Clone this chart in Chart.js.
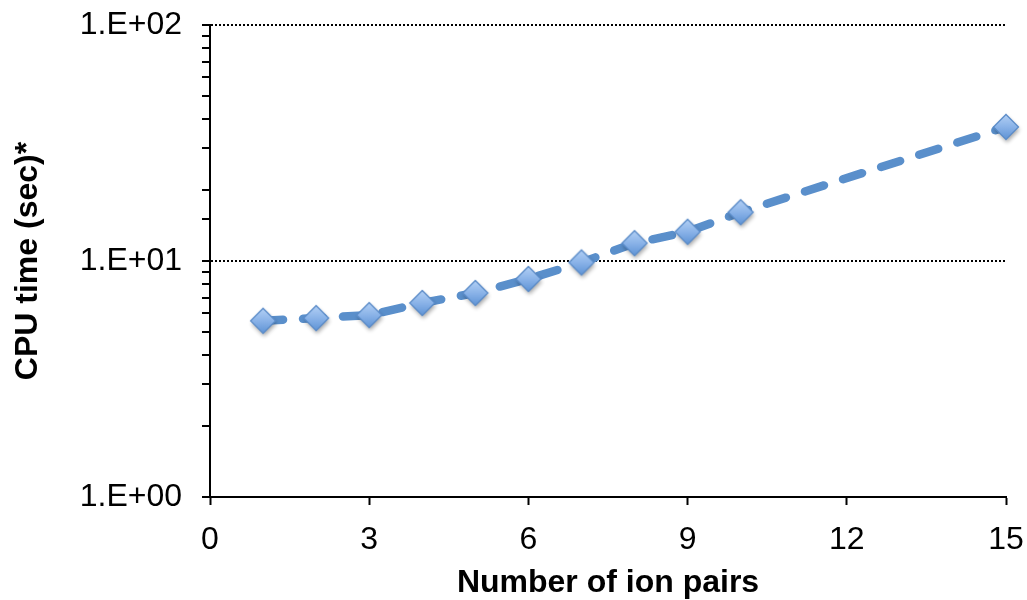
<!DOCTYPE html>
<html>
<head>
<meta charset="utf-8">
<script src="https://cdn.jsdelivr.net/npm/chart.js@4/dist/chart.umd.min.js"></script>
<style>
  html, body { margin: 0; padding: 0; background: #fff; }
  #wrap { width: 1027px; height: 600px; position: relative; }
</style>
</head>
<body>
<div id="wrap"><canvas id="c" width="1027" height="600"></canvas></div>
<script>
// ---- data ----
const ionPairs = [1, 2, 3, 4, 5, 6, 7, 8, 9, 10, 15];
const cpuTime  = [5.58, 5.73, 5.90, 6.64, 7.32, 8.39, 9.86, 11.9, 13.3, 16.1, 37.0];
const xTickValues = [0, 3, 6, 9, 12, 15];
const yMajorValues = [1, 10, 100];
const yMajorLabels = ['1.E+00', '1.E+01', '1.E+02'];
const xTitle = 'Number of ion pairs';
const yTitle = 'CPU time (sec)*';

// ---- marker image (diamond with gradient + soft shadow) ----
function makeMarker() {
  const S = 40, c = document.createElement('canvas');
  c.width = S; c.height = S;
  const g = c.getContext('2d');
  const cx = S / 2, cy = S / 2, r = 12.5;
  g.save();
  g.shadowColor = 'rgba(0,0,0,0.35)';
  g.shadowBlur = 4;
  g.shadowOffsetX = 1;
  g.shadowOffsetY = 3;
  g.beginPath();
  g.moveTo(cx, cy - r); g.lineTo(cx + r, cy); g.lineTo(cx, cy + r); g.lineTo(cx - r, cy); g.closePath();
  const grad = g.createLinearGradient(0, cy - r, 0, cy + r);
  grad.addColorStop(0, '#b3d0f5');
  grad.addColorStop(0.5, '#8ab3e8');
  grad.addColorStop(1, '#5f93d6');
  g.fillStyle = grad;
  g.fill();
  g.restore();
  g.beginPath();
  g.moveTo(cx, cy - r); g.lineTo(cx + r, cy); g.lineTo(cx, cy + r); g.lineTo(cx - r, cy); g.closePath();
  g.lineWidth = 1.3;
  g.strokeStyle = '#5a8bc8';
  g.stroke();
  return c;
}
const marker = makeMarker();

const FONT = "'Liberation Sans', Arial, Helvetica, sans-serif";

new Chart(document.getElementById('c'), {
  type: 'line',
  data: {
    datasets: [{
      data: ionPairs.map((x, i) => ({ x: x, y: cpuTime[i] })),
      borderColor: '#5a8fcb',
      borderWidth: 8.5,
      borderDash: [20, 20],
      borderCapStyle: 'round',
      tension: 0,
      fill: false,
      pointStyle: marker,
      pointRadius: 12.5,
      pointHoverRadius: 12.5,
      clip: false
    }]
  },
  options: {
    responsive: false,
    animation: false,
    events: [],
    layout: { padding: { top: 25, right: 21, left: 0, bottom: 0 } },
    plugins: { legend: { display: false }, tooltip: { enabled: false } },
    scales: {
      x: {
        type: 'linear',
        min: 0, max: 15,
        afterBuildTicks: s => { s.ticks = xTickValues.map(v => ({ value: v })); },
        afterFit: s => { s.height = 103; s.paddingLeft = 0; s.paddingRight = 0; },
        border: { display: true, color: '#000', width: 2 },
        grid: { drawOnChartArea: false, drawTicks: true, tickLength: 8, tickColor: '#000', tickWidth: 2, tickBorderDash: [] },
        ticks: { color: '#000', font: { family: FONT, size: 32 }, padding: 16, maxRotation: 0 },
        title: { display: true, text: xTitle, color: '#000', font: { family: FONT, size: 32, weight: 'bold' }, padding: { top: 0, bottom: -2 } }
      },
      y: {
        type: 'logarithmic',
        min: 1, max: 100,
        afterFit: s => { s.width = 210; s.paddingTop = 0; s.paddingBottom = 0; },
        border: { display: true, color: '#000', width: 2, dash: [2, 2] },
        grid: {
          drawOnChartArea: true,
          drawTicks: true,
          tickLength: 8,
          tickWidth: 2,
          tickColor: '#000',
          tickBorderDash: [],
          lineWidth: 2,
          color: ctx => (ctx.tick && (ctx.tick.value === 10 || ctx.tick.value === 100)) ? '#000' : 'rgba(0,0,0,0)'
        },
        ticks: {
          autoSkip: false,
          color: '#000',
          font: { family: FONT, size: 32 },
          padding: 20,
          callback: v => { const i = yMajorValues.indexOf(v); return i >= 0 ? yMajorLabels[i] : ''; }
        },
        title: { display: true, text: yTitle, color: '#000', font: { family: FONT, size: 32, weight: 'bold' }, padding: { top: 9, bottom: 0 } }
      }
    }
  }
});
</script>
</body>
</html>
